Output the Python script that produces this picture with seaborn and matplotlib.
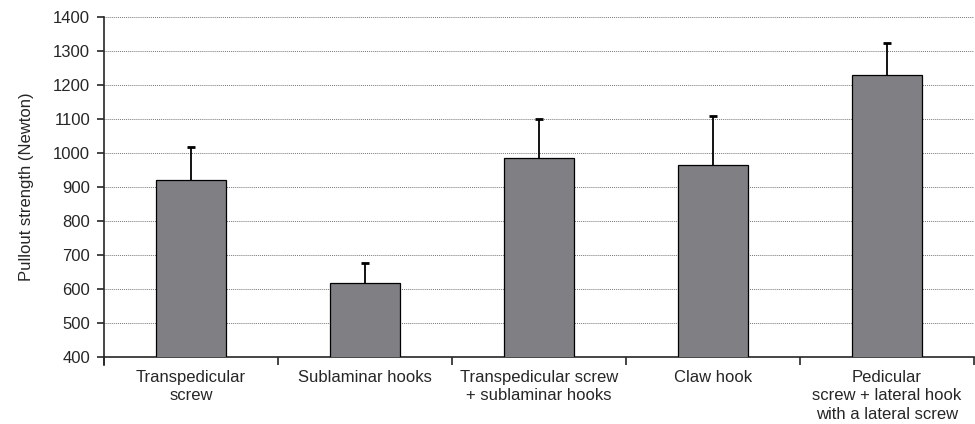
import numpy as np
import pandas as pd
import seaborn as sns

import matplotlib
matplotlib.use('Agg')
import matplotlib.pyplot as plt
from matplotlib.ticker import MultipleLocator, FixedLocator

# values (Newton)
groups = ["Transpedicular\nscrew", "Sublaminar hooks", "Transpedicular screw\n+ sublaminar hooks",
          "Claw hook", "Pedicular\nscrew + lateral hook\nwith a lateral screw"]
means = [920, 618, 985, 965, 1229]
sds = [98, 58, 115, 145, 93]

data = pd.DataFrame({"group": groups, "strength": means})

sns.set_style("white")
plt.rcParams['font.family'] = ['Liberation Sans', 'DejaVu Sans']

fig = plt.figure(figsize=(9.75, 4.24), dpi=100)
ax = fig.add_axes([0.1067, 0.158, 0.8923, 0.802])

sns.barplot(data=data, x="group", y="strength", color="#808084", saturation=1,
            width=0.4, edgecolor="black", linewidth=0.9, ax=ax, zorder=3)

#----------error bars, upward only----------
x = np.arange(len(means))
tops = np.array(means) + np.array(sds)
ax.vlines(x, means, tops, color='black', linewidth=1.3, zorder=4)
ax.scatter(x, tops, marker='_', s=40, color='black', linewidths=2, zorder=4)

ax.set_ylim(400, 1400)
ax.set_xlim(-0.5, len(groups) - 0.5)
ax.yaxis.set_major_locator(MultipleLocator(100))
ax.yaxis.grid(True, linestyle=(0, (1, 1)), color='#777777', linewidth=0.7)
ax.set_axisbelow(True)

ax.set_xlabel("")
ax.set_ylabel("Pullout strength (Newton)", fontsize=12, labelpad=14)
ax.tick_params(axis='y', labelsize=12, length=5, width=1.2, direction='out', left=True, pad=5)
ax.tick_params(axis='x', which='major', length=0, labelsize=12, pad=9)
ax.xaxis.set_minor_locator(FixedLocator(np.arange(-0.5, len(groups), 1.0)))
ax.tick_params(axis='x', which='minor', length=6, width=1.2, direction='out', bottom=True)
for lbl in ax.get_xticklabels():
    lbl.set_linespacing(1.3)

sns.despine(ax=ax)
ax.spines['left'].set_linewidth(1.2)
ax.spines['bottom'].set_linewidth(1.2)
ax.spines['left'].set_bounds(376, 1400)

fig.savefig("out.png", dpi=100)
